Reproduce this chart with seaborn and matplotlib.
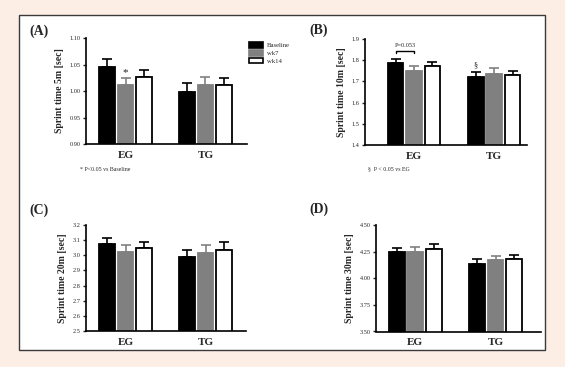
import numpy as np
import pandas as pd
import matplotlib
matplotlib.use("Agg")
import matplotlib.pyplot as plt
from matplotlib.patches import Rectangle, Patch
from matplotlib.ticker import FormatStrFormatter
import seaborn as sns

# ---------------- data ----------------
groups = ["EG", "TG"]
times = ["Baseline", "wk7", "wk14"]

sprint5_mean = {"Baseline": [1.045, 0.998], "wk7": [1.011, 1.011], "wk14": [1.027, 1.011]}
sprint5_se = {"Baseline": [0.015, 0.018], "wk7": [0.014, 0.015], "wk14": [0.013, 0.014]}

sprint10_mean = {"Baseline": [1.789, 1.723], "wk7": [1.750, 1.737], "wk14": [1.772, 1.730]}
sprint10_se = {"Baseline": [0.018, 0.022], "wk7": [0.022, 0.024], "wk14": [0.020, 0.020]}

sprint20_mean = {"Baseline": [3.075, 2.990], "wk7": [3.022, 3.012], "wk14": [3.045, 3.033]}
sprint20_se = {"Baseline": [0.037, 0.044], "wk7": [0.044, 0.055], "wk14": [0.042, 0.053]}

sprint30_mean = {"Baseline": [4.246, 4.138], "wk7": [4.248, 4.167], "wk14": [4.277, 4.179]}
sprint30_se = {"Baseline": [0.038, 0.041], "wk7": [0.041, 0.044], "wk14": [0.041, 0.044]}

panel_letters = ["(A)", "(B)", "(C)", "(D)"]
ylabels = ["Sprint time 5m [sec]", "Sprint time 10m [sec]",
           "Sprint time 20m [sec]", "Sprint time 30m [sec]"]
yticks_list = [[0.90, 0.95, 1.00, 1.05, 1.10],
               [1.4, 1.5, 1.6, 1.7, 1.8, 1.9],
               [2.5, 2.6, 2.7, 2.8, 2.9, 3.0, 3.1, 3.2],
               [3.50, 3.75, 4.00, 4.25, 4.50]]
tick_fmt = ["%.2f", "%.1f", "%.1f", "%.2f"]

footnote_a = "* P<0.05 vs Baseline"
footnote_b = "§  P < 0.05 vs EG"
bracket_text = "P=0.053"

# ---------------- style ----------------
BG = "#fdeee5"
SERIF = ["Liberation Serif", "DejaVu Serif"]
sns.set_style("ticks")
plt.rcParams["font.family"] = SERIF

face = {"Baseline": "black", "wk7": "#808080", "wk14": "white"}
edge = {"Baseline": "black", "wk7": "#808080", "wk14": "black"}

W, H = 565, 367
fig = plt.figure(figsize=(W / 100, H / 100), dpi=100)
fig.patch.set_facecolor(BG)

# white framed panel
fig.patches.append(Rectangle((19 / W, 1 - 350 / H), (545 - 19) / W, (350 - 15) / H,
                             transform=fig.transFigure, facecolor="white",
                             edgecolor="#3a3a3a", linewidth=1.0, zorder=-5))

# axes boxes in pixels: left, right, top, bottom
boxes = [(86, 247, 38, 144), (365, 527, 39, 145), (86, 246, 225, 331), (376, 541, 225, 331.5)]
xlims = [(-0.494, 1.519), (-0.6125, 1.41), (-0.494, 1.506), (-0.49, 1.566)]

means = [sprint5_mean, sprint10_mean, sprint20_mean, sprint30_mean]
ses = [sprint5_se, sprint10_se, sprint20_se, sprint30_se]

axes = []
for i in range(4):
    l, r, t, b = boxes[i]
    ax = fig.add_axes([l / W, 1 - b / H, (r - l) / W, (b - t) / H])
    ax.set_facecolor("white")
    ax.patch.set_alpha(0)
    rows = []
    for tm in times:
        for g, m in zip(groups, means[i][tm]):
            rows.append({"Group": g, "Time": tm, "Value": m})
    df = pd.DataFrame(rows)
    sns.barplot(data=df, x="Group", y="Value", hue="Time", order=groups, hue_order=times,
                palette=face, errorbar=None, width=0.69, gap=0.15, ax=ax, legend=False,
                saturation=1)
    for cont, tm in zip(ax.containers, times):
        for bar, se in zip(cont, ses[i][tm]):
            bar.set_edgecolor(edge[tm])
            bar.set_linewidth(1.3)
            bar.set_facecolor(face[tm])
            xc = bar.get_x() + bar.get_width() / 2
            ax.errorbar(xc, bar.get_height(), yerr=[[0], [se]], color=edge[tm],
                        elinewidth=1.2, capsize=3.4, capthick=1.2, zorder=1)
            bar.set_zorder(2)
    yt = yticks_list[i]
    ax.set_ylim(yt[0], yt[-1])
    ax.set_yticks(yt)
    ax.yaxis.set_major_formatter(FormatStrFormatter(tick_fmt[i]))
    ax.set_xlim(*xlims[i])
    ax.set_xlabel("")
    ax.set_ylabel(ylabels[i], fontsize=7, fontweight="bold", labelpad=4)
    for s in ["top", "right"]:
        ax.spines[s].set_visible(False)
    for s in ["left", "bottom"]:
        ax.spines[s].set_linewidth(1.2)
        ax.spines[s].set_color("black")
    ax.tick_params(axis="y", labelsize=4.5, length=2.5, width=1, pad=1.5)
    ax.tick_params(axis="x", length=0, labelsize=8, pad=5)
    for lab in ax.get_xticklabels():
        lab.set_fontweight("bold")
    axes.append(ax)

# panel letters
letter_pos = [(39, 31), (319, 30), (39, 210), (319, 209)]
for (px, py), txt in zip(letter_pos, panel_letters):
    fig.text(px / W, 1 - py / H, txt, fontsize=10, fontweight="bold",
             ha="center", va="center")

# significance marks
axA, axB = axes[0], axes[1]
cA = axA.containers[1][0]
axA.text(cA.get_x() + cA.get_width() / 2, sprint5_mean["wk7"][0] + sprint5_se["wk7"][0] + 0.001,
         "*", ha="center", va="bottom", fontsize=8)

cB = axB.containers[0][1]
axB.text(cB.get_x() + cB.get_width() / 2, sprint10_mean["Baseline"][1] + sprint10_se["Baseline"][1] + 0.01,
         "§", ha="center", va="bottom", fontsize=6)

b0 = axB.containers[0][0]
b1 = axB.containers[1][0]
x0 = b0.get_x() + b0.get_width() / 2
x1 = b1.get_x() + b1.get_width() / 2
yb = 1.844
axB.plot([x0, x0, x1, x1], [yb - 0.01, yb, yb, yb - 0.01], color="black", lw=1.0, clip_on=False)
axB.text((x0 + x1) / 2, yb + 0.012, bracket_text, ha="center", va="bottom", fontsize=4.5)

# footnotes
fig.text(80 / W, 1 - 170 / H, footnote_a, fontsize=4.2, ha="left", va="center")
fig.text(368 / W, 1 - 169 / H, footnote_b, fontsize=4.2, ha="left", va="center")

# legend
handles = [Patch(facecolor=face[t], edgecolor=edge[t], linewidth=1.2, label=t) for t in times]
fig.legend(handles=handles, loc="upper left", bbox_to_anchor=(246 / W, 1 - 39 / H),
           frameon=False, fontsize=4.8, handlelength=2.0, handleheight=0.9,
           handletextpad=0.6, labelspacing=0.25, borderpad=0)

fig.savefig("out.png", dpi=100, facecolor=BG)
